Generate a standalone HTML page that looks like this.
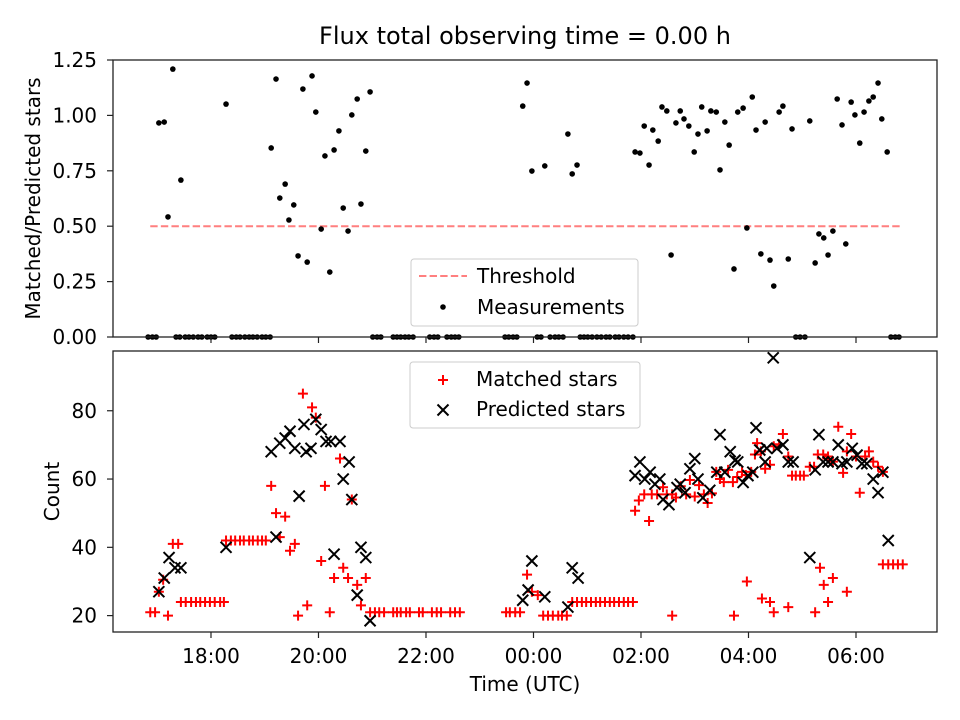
<!DOCTYPE html>
<html><head><meta charset="utf-8"><style>
html,body{margin:0;padding:0;background:#fff;}
svg{display:block;font-family:"DejaVu Sans","Liberation Sans",sans-serif;}
</style></head><body>
<svg id="chart" width="960" height="720" viewBox="0 0 960 720" xmlns="http://www.w3.org/2000/svg">
<rect width="960" height="720" fill="#fff"/>
<text x="525" y="44" text-anchor="middle" font-size="24" fill="#000">Flux total observing time = 0.00 h</text>
<g id="topPanel"></g>
<g id="botPanel"></g>
</svg>
<script>
// ---- data (hours since midnight of start day; >24 is next day) ----
const ratioTimes = [17.03,17.13,17.29,17.44,17.20,18.28,19.12,19.21,19.38,19.28,19.54,19.45,19.62,19.79,19.71,19.88,19.95,20.05,20.12,20.21,20.29,20.38,20.46,20.55,20.62,20.72,20.79,20.88,20.96,
23.80,23.88,23.97,24.21,24.64,24.72,24.81,25.89,25.98,26.06,26.15,26.22,26.32,26.39,26.48,26.56,26.65,26.73,26.80,26.89,26.99,27.06,27.13,27.23,27.30,27.40,27.47,27.56,27.64,27.73,27.80,27.90,27.97,28.07,28.14,28.23,28.31,28.40,28.47,28.57,28.64,28.74,28.81,29.14,29.24,29.31,29.40,29.48,29.57,29.65,29.74,29.81,29.91,29.98,30.07,30.15,30.24,30.32,30.41,30.48,30.58];
const ratioValues = [0.966,0.970,1.209,0.708,0.542,1.051,0.853,1.164,0.690,0.627,0.596,0.528,0.366,0.338,1.119,1.178,1.015,0.487,0.817,0.293,0.844,0.930,0.582,0.478,1.002,1.074,0.600,0.839,1.106,
1.042,1.146,0.749,0.772,0.916,0.736,0.776,0.835,0.830,0.952,0.776,0.934,0.884,1.038,1.020,0.370,0.966,1.020,0.984,0.952,0.835,0.916,1.038,0.930,1.020,1.015,0.754,0.970,0.866,0.307,1.015,1.033,0.492,1.083,0.934,0.375,0.970,0.347,0.230,1.015,1.042,0.352,0.939,0.975,0.334,0.465,0.447,0.370,0.478,1.074,0.957,0.420,1.060,1.002,0.875,1.015,1.065,1.083,1.146,0.984,0.835];
const zeroTimes = [16.83,16.91,16.98,17.35,17.42,17.52,17.59,17.67,17.76,17.83,17.93,18.00,18.07,18.39,18.47,18.54,18.63,18.71,18.78,18.86,18.95,19.02,19.10,
21.01,21.09,21.16,21.39,21.46,21.53,21.61,21.68,21.76,22.07,22.15,22.22,22.39,22.47,22.54,22.61,
23.47,23.54,23.62,23.69,24.07,24.14,24.31,24.40,24.47,24.55,24.87,24.94,25.01,25.09,25.18,25.26,25.35,25.42,25.52,25.59,25.68,25.76,25.85,28.88,28.96,29.05,30.65,30.73,30.80];
const threshold = 0.5;
const thresholdRange = [16.87, 30.82];

const matchedTimes = [16.87,16.96,17.20,17.03,17.11,17.29,17.39,17.44,17.53,17.63,17.72,17.80,17.89,17.98,18.07,18.17,18.24,18.28,18.37,18.45,18.54,18.61,18.71,18.78,18.87,18.95,19.02,
19.12,19.21,19.38,19.28,19.56,19.47,19.62,19.79,19.71,19.88,19.95,20.12,20.21,20.05,20.40,20.46,20.29,20.55,20.72,20.88,20.62,20.79,
20.96,21.05,21.13,21.22,21.39,21.46,21.53,21.63,21.70,21.87,21.94,22.11,22.20,22.28,22.45,22.54,22.63,
23.49,23.56,23.66,23.75,23.88,23.97,24.08,24.18,24.27,24.36,24.46,24.53,24.62,24.72,24.81,24.90,24.98,25.07,25.16,25.24,25.33,25.42,25.50,25.59,25.68,25.76,25.85,
26.58,27.97,27.73,28.25,28.40,28.47,28.74,29.24,29.33,29.40,29.48,29.57,29.83,30.50,30.60,30.69,30.78,30.87,
25.89,25.96,26.06,26.15,26.20,26.30,26.41,26.48,26.58,26.65,26.74,26.84,26.91,27.00,27.08,27.17,27.24,27.32,27.40,27.47,27.54,27.62,27.71,27.79,27.88,27.95,28.05,28.12,28.16,28.23,28.31,28.40,28.47,28.57,28.64,28.74,28.81,28.88,28.96,29.03,29.14,29.22,29.29,29.39,29.48,29.57,29.67,29.76,29.83,29.91,30.00,30.07,30.17,30.24,30.32,30.41,30.50];
const matchedCounts = [21,21,20,27,30.5,41,41,24,24,24,24,24,24,24,24,24,24,42,42,42,42,42,42,42,42,42,42,
58,50,49,43,41,39,20,23,85,81,78,58,21,36,66,34,31,31,29,31,54,23,
21,21,21,21,21,21,21,21,21,21,21,21,21,21,21,21,21,
21,21,21,21,32,27,26,20,20,20,20,20,20,24,24,24,24,24,24,24,24,24,24,24,24,24,24,
20,30,20,25,24,21,22.5,21,34,29,24,31,27,35,35,35,35,35,
50.7,53.7,55.5,47.7,55.5,55.5,57.6,55.5,55.5,54.6,57.9,55.5,59.7,54.9,58.2,55.5,53,55.8,62.1,60,59.1,62.7,59.1,60.6,62.1,61.2,62.1,67.2,70.5,68.1,63,64.2,69.6,70.2,73.2,66.6,61,61,61,61,63.6,63.6,67.2,67.2,66.6,65.1,75.3,61.8,68.1,73.2,66.6,56,66.6,68.1,65.1,63.6,62.1];

const predictedTimes = [17.03,17.13,17.22,17.33,17.44,18.28,19.21,19.12,19.28,19.38,19.47,19.56,19.73,19.77,19.86,19.95,20.05,20.14,20.23,20.40,20.57,20.46,20.62,19.64,20.29,20.79,20.88,20.72,20.96,
28.46,23.97,23.80,23.90,24.21,24.72,24.83,24.64,29.14,30.60,
25.98,25.89,26.07,26.17,26.26,26.35,26.41,26.52,26.67,26.73,26.82,26.91,27.00,27.06,27.15,27.28,27.47,27.41,27.56,27.66,27.75,27.80,27.90,27.99,28.08,28.14,28.21,28.34,28.31,28.53,28.64,28.74,28.83,29.24,29.31,29.39,29.48,29.57,29.67,29.74,29.83,29.93,30.02,30.11,30.20,30.32,30.41,30.50];
const predictedCounts = [27,31,37,34,34,40,43,68,70.5,72,74,69,76,68,69,77.5,74.5,71,71,71,65,60,54,55,38,40,37,26,18.5,
95.5,36,24.5,27.5,25.5,34,31,22.5,37,42,
65,61,60,62,58.5,60,54,52.5,57.5,58.5,56,63,66,60,54.5,56.7,73,62,62,68,65.5,65,59,61,62,75,68.5,69,65,69,70,65,65,62.7,73,65,65,65,70,64.5,65,69,67,64.5,64.5,60,56,62];

const xTickHours = [18,20,22,24,26,28,30];
const xTickLabels = ["18:00","20:00","22:00","00:00","02:00","04:00","06:00"];
const topTicks = [0,0.25,0.5,0.75,1.0,1.25];
const topTickLabels = ["0.00","0.25","0.50","0.75","1.00","1.25"];
const botTicks = [20,40,60,80];
const botTickLabels = ["20","40","60","80"];

// ---- layout ----
const NS="http://www.w3.org/2000/svg";
const FS=20;
const L=113,R=937, T1=60,B1=337, T2=351,B2=632;
const xMin=16.177,xMax=31.507;
const X=h=>L+(h-xMin)/(xMax-xMin)*(R-L);
const Y1=v=>B1-(v-0)/(1.25-0)*(B1-T1);
const bMin=15.2,bMax=97.5;
const Y2=v=>B2-(v-bMin)/(bMax-bMin)*(B2-T2);
function mk(tag,attrs,parent){const e=document.createElementNS(NS,tag);for(const k in attrs)e.setAttribute(k,attrs[k]);parent.appendChild(e);return e;}

const topG=document.getElementById('topPanel'), botG=document.getElementById('botPanel');

// top panel
{
  const l=mk('line',{x1:X(thresholdRange[0]),x2:X(thresholdRange[1]),y1:Y1(threshold),y2:Y1(threshold),stroke:'#ff7f7f','stroke-width':2,'stroke-dasharray':'7.4,3.2'},topG);
  
  
  ratioTimes.forEach((t,i)=>{
    const c=mk('circle',{cx:X(t),cy:Y1(ratioValues[i]),r:2.8,fill:'#000'},topG);
    
    
  });
  zeroTimes.forEach(t=>{
    const c=mk('circle',{cx:X(t),cy:Y1(0),r:2.8,fill:'#000'},topG);
    
    
  });
  const fr=mk('rect',{x:L,y:T1,width:R-L,height:B1-T1,fill:'none',stroke:'#222','stroke-width':1.3},topG);
  
  
  topTicks.forEach((v,i)=>{
    mk('line',{x1:L-6,x2:L,y1:Y1(v),y2:Y1(v),stroke:'#222','stroke-width':1.2},topG);
    const tx=mk('text',{x:L-16,y:Y1(v)+7,'text-anchor':'end','font-size':FS},topG);
    tx.textContent=topTickLabels[i];
    
    
  });
  xTickHours.forEach(h=>mk('line',{x1:X(h),x2:X(h),y1:B1,y2:B1+6,stroke:'#222','stroke-width':1.2},topG));
  const yl=mk('text',{x:40,y:(T1+B1)/2,'text-anchor':'middle','font-size':FS,transform:`rotate(-90 40 ${(T1+B1)/2})`},topG);
  yl.textContent='Matched/Predicted stars';
  
  
  const lg=mk('g',{},topG);
  
  
  mk('rect',{x:411,y:259,width:227,height:67,rx:3,fill:'#fff','fill-opacity':0.8,stroke:'#ccc'},lg);
  mk('line',{x1:419,x2:467,y1:276,y2:276,stroke:'#ff7f7f','stroke-width':2,'stroke-dasharray':'7.4,3.2'},lg);
  const t1=mk('text',{x:477,y:283,'font-size':FS},lg);t1.textContent='Threshold';
  
  
  mk('circle',{cx:443,cy:307,r:2.8,fill:'#000'},lg);
  const t2=mk('text',{x:477,y:314,'font-size':FS},lg);t2.textContent='Measurements';
  
  
}

// bottom panel
function plus(g,x,y){return mk('path',{d:`M${x-5} ${y}H${x+5}M${x} ${y-5}V${y+5}`,stroke:'#ff0000','stroke-width':2,fill:'none'},g);}
function cross(g,x,y){return mk('path',{d:`M${x-5.5} ${y-5.5}L${x+5.5} ${y+5.5}M${x-5.5} ${y+5.5}L${x+5.5} ${y-5.5}`,stroke:'#000','stroke-width':2,fill:'none'},g);}
{
  matchedTimes.forEach((t,i)=>{
    const p=plus(botG,X(t),Y2(matchedCounts[i]));
    
    
  });
  predictedTimes.forEach((t,i)=>{
    const p=cross(botG,X(t),Y2(predictedCounts[i]));
    
    
  });
  const fr=mk('rect',{x:L,y:T2,width:R-L,height:B2-T2,fill:'none',stroke:'#222','stroke-width':1.3},botG);
  
  
  botTicks.forEach((v,i)=>{
    mk('line',{x1:L-6,x2:L,y1:Y2(v),y2:Y2(v),stroke:'#222','stroke-width':1.2},botG);
    const tx=mk('text',{x:L-16,y:Y2(v)+7,'text-anchor':'end','font-size':FS},botG);
    tx.textContent=botTickLabels[i];
    
    
  });
  xTickHours.forEach((h,i)=>{
    mk('line',{x1:X(h),x2:X(h),y1:B2,y2:B2+6,stroke:'#222','stroke-width':1.2},botG);
    const tx=mk('text',{x:X(h),y:B2+31,'text-anchor':'middle','font-size':FS},botG);
    tx.textContent=xTickLabels[i];
    
    
  });
  const yl=mk('text',{x:59,y:(T2+B2)/2,'text-anchor':'middle','font-size':FS,transform:`rotate(-90 59 ${(T2+B2)/2})`},botG);
  yl.textContent='Count';
  
  
  const xl=mk('text',{x:525,y:691,'text-anchor':'middle','font-size':FS},botG);
  xl.textContent='Time (UTC)';
  
  
  const lg=mk('g',{},botG);
  
  
  mk('rect',{x:410,y:362,width:230,height:66,rx:3,fill:'#fff','fill-opacity':0.8,stroke:'#ccc'},lg);
  plus(lg,443,380);
  const t1=mk('text',{x:476,y:386,'font-size':FS},lg);t1.textContent='Matched stars';
  
  
  cross(lg,443,410);
  const t2=mk('text',{x:476,y:416,'font-size':FS},lg);t2.textContent='Predicted stars';
  
  
}
</script>
</body></html>
